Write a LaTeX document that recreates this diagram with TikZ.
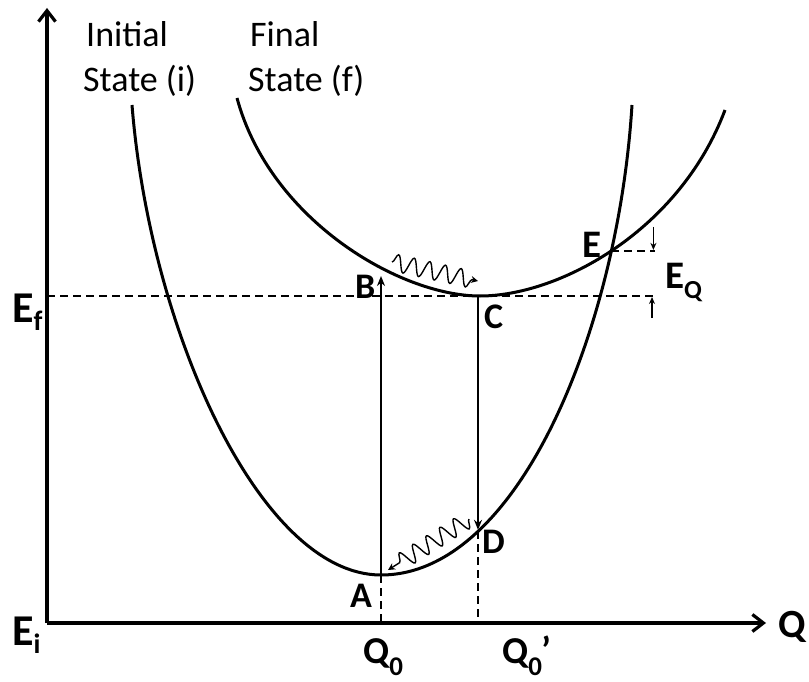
\documentclass[tikz,border=0pt]{standalone}
\usepackage{fontspec}
\setmainfont{Carlito}
\usetikzlibrary{arrows.meta,decorations.pathmorphing,intersections,calc}
\begin{document}
\begin{tikzpicture}[x=1pt,y=-1pt,
  curve/.style={line width=3pt},
  axis/.style={line width=3.2pt,-{Straight Barb[length=11pt,width=17pt]}},
  transition/.style={line width=1.7pt,-{Stealth[length=10pt,width=8pt]}},
  guide/.style={line width=1.8pt,dash pattern=on 8pt off 5pt},
  eqarrow/.style={line width=1.3pt,-{Stealth[length=7pt,width=6pt]}},
  wave/.style={line width=1.4pt,decorate,decoration={snake,amplitude=8.5pt,segment length=16pt,post length=6pt},-{Stealth[length=7pt,width=7pt]}},
  lbl/.style={font=\bfseries\fontsize{36}{40}\selectfont,inner sep=0pt,anchor=base west},
  biglbl/.style={font=\bfseries\fontsize{44}{48}\selectfont,inner sep=0pt,anchor=base west},
  statetxt/.style={font=\fontsize{36}{40}\selectfont,inner sep=0pt,anchor=base west}
]
\useasboundingbox (0,0) rectangle (809,682);

% key points
\coordinate (O) at (47,623);
\coordinate (Ytop) at (47,8);
\coordinate (Xend) at (766,623);
\coordinate (A) at (381,575);
\coordinate (B) at (381,276);
\coordinate (C) at (478,296);
\coordinate (Aax) at (381,623);
\coordinate (EfL) at (47,296);
\coordinate (EfR) at (655,296);
\coordinate (W1s) at (392,262);
\coordinate (W1e) at (478,281);
\coordinate (W2s) at (469,519);
\coordinate (W2e) at (388,570);

% curves
\draw[curve,name path=lower] (132,105) .. controls (150,330) and (260,575) .. (A)
  .. controls (518,575) and (618,330) .. (632,105);
\draw[curve,name path=upper] (237,98) .. controls (270,220) and (400,296) .. (480,296)
  .. controls (560,296) and (680,230) .. (725,110);

% points on the curves
\path[name path=vline] (478,300) -- (478,620);
\path[name intersections={of=lower and upper,by=E}];
\path[name intersections={of=lower and vline,by=D}];
\coordinate (Dax) at (D |- O);
\coordinate (EQR) at ($(E)+(44,0)$);

% axes
\draw[axis] (O) -- (Ytop);
\draw[axis] (O) -- (Xend);

% dashed guides
\draw[guide] (EfL) -- (EfR);
\draw[guide] (E) -- (EQR);
\draw[guide] (A) -- (Aax);
\draw[guide] (D) -- (Dax);

% E_Q arrows
\coordinate (EQtop) at ($(EQR)+(-2,-24)$);
\coordinate (EQtip1) at ($(EQR)+(-2,-1)$);
\coordinate (EQbot) at (652,318);
\coordinate (EQtip2) at (652,297);

% transitions
\draw[transition] (A) -- (B);
\draw[transition,shorten >=1.5pt] (C) -- (D);
\draw[wave] (W1s) -- (W1e);
\draw[wave] (W2s) -- (W2e);
\draw[eqarrow] (EQtop) -- (EQtip1);
\draw[eqarrow] (EQbot) -- (EQtip2);

% labels
\node[statetxt] (ini1) at (86,47) {Initial};
\node[statetxt] (ini2) at (83,92) {State (i)};
\node[statetxt] (fin1) at (250,47) {Final};
\node[statetxt] (fin2) at (248,92) {State (f)};

\node[lbl] (lA) at (350,607) {A};
\node[lbl] (lB) at (355,298) {B};
\node[lbl] (lC) at (484,328) {C};
\node[lbl] (lD) at (482,553) {D};
\node[lbl,font=\bfseries\fontsize{39}{42}\selectfont] (lE) at (582,257) {E};
\node[lbl,font=\bfseries\fontsize{39}{42}\selectfont] (lEQ) at (665,288) {E\raisebox{-10pt}{\fontsize{26}{28}\selectfont Q}};
\node[biglbl] (lEf) at (12,322) {E\raisebox{-8pt}{\fontsize{28}{30}\selectfont f}};
\node[biglbl] (lEi) at (12,645) {E\raisebox{-8pt}{\fontsize{28}{30}\selectfont i}};
\node[lbl,font=\bfseries\fontsize{40}{44}\selectfont] (lQ) at (778,637) {Q};
\node[lbl,font=\bfseries\fontsize{38}{42}\selectfont] (lQ0) at (363,663) {Q\raisebox{-12pt}{\fontsize{27}{29}\selectfont 0}};
\node[lbl,font=\bfseries\fontsize{38}{42}\selectfont] (lQ0p) at (502,663) {Q\raisebox{-12pt}{\fontsize{27}{29}\selectfont 0}’};
\end{tikzpicture}
\end{document}
